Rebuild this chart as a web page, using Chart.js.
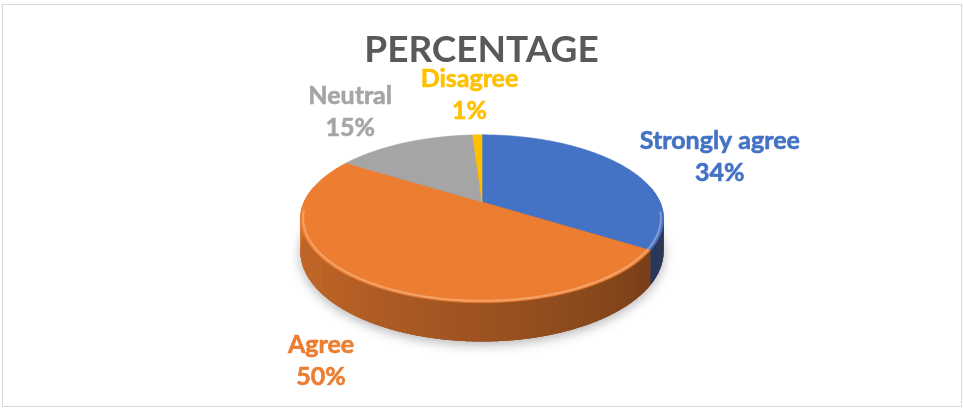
<!DOCTYPE html>
<html>
<head>
<meta charset="utf-8">
<script src="https://cdn.jsdelivr.net/npm/chart.js@4/dist/chart.umd.min.js"></script>
<style>
  html, body { margin: 0; padding: 0; background: #ffffff; }
  canvas { display: block; }
</style>
</head>
<body>
<canvas id="chart" width="963" height="409"></canvas>
<script>
// Survey answers and their shares (percent)
const categories = ['Strongly agree', 'Agree', 'Neutral', 'Disagree'];
const percentages = [34, 50, 15, 1];
const sliceColors = ['#4472C4', '#ED7D31', '#A5A5A5', '#FFC000'];
const chartTitle = 'PERCENTAGE';

// Tilted-disc view: centre, horizontal / vertical radius, perspective, wall height
const VIEW = { cx: 482, cy: 202, sx: 178, sy: 80.6, k: 0.2, depth: 31 };
const LABEL_FONT = 'bold 25px Lato';
const LABEL_GAP = 16;
const LABEL_BOX_H = 58;

function project(theta, f, drop) {
  const u = f * Math.cos(theta);
  const v = -f * Math.sin(theta);
  const w = 1 + VIEW.k * v;
  return [VIEW.cx + VIEW.sx * u / w, VIEW.cy - VIEW.sy * v / w + (drop ? VIEW.depth / w : 0)];
}

function hexToRgb(hex) {
  const n = parseInt(hex.slice(1), 16);
  return [(n >> 16) & 255, (n >> 8) & 255, n & 255];
}

function shade(hex, f) {
  const [r, g, b] = hexToRgb(hex);
  return `rgb(${Math.round(r * f)},${Math.round(g * f)},${Math.round(b * f)})`;
}

const clamp = (x, a, b) => Math.min(Math.max(x, a), b);
const STEP = Math.PI / 360;

// Draws the pie as a tilted 3-D disc, using the arc angles Chart.js computed
const pie3d = {
  id: 'pie3d',
  beforeDatasetsDraw(chart) {
    const ctx = chart.ctx;
    const arcs = chart.getDatasetMeta(0).data;
    const colors = chart.data.datasets[0].backgroundColor;

    // soft shadow under the disc
    ctx.save();
    ctx.beginPath();
    for (let t = 0; t <= Math.PI * 2 + STEP; t += STEP) {
      const p = project(t, 1, true);
      t === 0 ? ctx.moveTo(p[0], p[1]) : ctx.lineTo(p[0], p[1]);
    }
    ctx.closePath();
    ctx.shadowColor = 'rgba(0,0,0,0.30)';
    ctx.shadowBlur = 12;
    ctx.shadowOffsetY = 3;
    ctx.fillStyle = '#8a4a20';
    ctx.fill();
    ctx.restore();

    // outer walls on the front half
    const lo = -0.2, hi = Math.PI + 0.2;
    arcs.forEach((arc, i) => {
      const a0 = Math.max(arc.startAngle, lo);
      const a1 = Math.min(arc.endAngle, hi);
      if (a1 <= a0) return;
      for (let t = a0; t < a1; t += STEP) {
        const t2 = Math.min(t + STEP * 1.6, a1);
        const q = clamp(((t + t2) / 2) / Math.PI, 0, 1);
        const f = 0.42 + 0.48 * q;
        const p1 = project(t, 1, false), p2 = project(t2, 1, false);
        const p3 = project(t2, 1, true), p4 = project(t, 1, true);
        ctx.beginPath();
        ctx.moveTo(p1[0], p1[1]);
        ctx.lineTo(p2[0], p2[1]);
        ctx.lineTo(p3[0], p3[1]);
        ctx.lineTo(p4[0], p4[1]);
        ctx.closePath();
        ctx.fillStyle = shade(colors[i], f);
        ctx.fill();
      }
    });

    // top faces
    arcs.forEach((arc, i) => {
      ctx.beginPath();
      const c = project(0, 0, false);
      ctx.moveTo(c[0], c[1]);
      for (let t = arc.startAngle; t < arc.endAngle; t += STEP) {
        const p = project(t, 1, false);
        ctx.lineTo(p[0], p[1]);
      }
      const e = project(arc.endAngle, 1, false);
      ctx.lineTo(e[0], e[1]);
      ctx.closePath();
      ctx.fillStyle = colors[i];
      ctx.fill();
      ctx.strokeStyle = colors[i];
      ctx.lineWidth = 0.6;
      ctx.stroke();
    });

    // rounded-edge highlight along the front rim
    ctx.save();
    ctx.beginPath();
    for (let t = 0.12; t <= Math.PI - 0.1; t += STEP) {
      const p = project(t, 0.985, false);
      t === 0.12 ? ctx.moveTo(p[0], p[1]) : ctx.lineTo(p[0], p[1]);
    }
    ctx.strokeStyle = 'rgba(255,235,215,0.35)';
    ctx.lineWidth = 2;
    ctx.stroke();
    ctx.restore();

    return false;
  },
  afterDraw(chart) {
    const ctx = chart.ctx;
    const arcs = chart.getDatasetMeta(0).data;
    const values = chart.data.datasets[0].data;
    const total = values.reduce((s, v) => s + v, 0);
    const colors = chart.data.datasets[0].backgroundColor;

    // category + percentage labels outside each slice
    ctx.save();
    ctx.font = LABEL_FONT;
    ctx.textAlign = 'center';
    ctx.textBaseline = 'alphabetic';
    ctx.lineWidth = 0.6;
    ctx.lineJoin = 'round';
    arcs.forEach((arc, i) => {
      const mid = (arc.startAngle + arc.endAngle) / 2;
      const front = Math.sin(mid) > 0;
      const rim = project(mid, 1, front);
      let dx = Math.cos(mid) * VIEW.sx, dy = Math.sin(mid) * VIEW.sy;
      const len = Math.hypot(dx, dy);
      dx /= len; dy /= len;
      const ax = rim[0] + dx * LABEL_GAP;
      const ay = rim[1] + dy * LABEL_GAP;
      const name = chart.data.labels[i];
      const pct = Math.round(values[i] / total * 100) + '%';
      const w = Math.max(ctx.measureText(name).width, ctx.measureText(pct).width);
      const bx = ax + clamp(dx * 2, -1, 1) * w / 2;
      const by = ay + clamp(dy * 1.5, -1, 1) * LABEL_BOX_H / 2 + 4;
      ctx.fillStyle = colors[i];
      ctx.strokeStyle = colors[i];
      ctx.fillText(name, bx, by - 7);
      ctx.strokeText(name, bx, by - 7);
      ctx.fillText(pct, bx, by + 25);
      ctx.strokeText(pct, bx, by + 25);
    });
    ctx.restore();

    // chart frame
    ctx.save();
    ctx.strokeStyle = '#D9D9D9';
    ctx.lineWidth = 1;
    ctx.strokeRect(2.5, 4.5, 959, 402);
    ctx.restore();
  }
};

new Chart(document.getElementById('chart'), {
  type: 'pie',
  data: {
    labels: categories,
    datasets: [{
      data: percentages,
      backgroundColor: sliceColors,
      borderWidth: 0
    }]
  },
  options: {
    responsive: false,
    devicePixelRatio: 1,
    animation: false,
    events: [],
    layout: { padding: 0 },
    plugins: {
      legend: { display: false },
      tooltip: { enabled: false },
      title: {
        display: true,
        text: chartTitle,
        color: '#595959',
        font: { family: 'Lato', size: 37, weight: 'bold', lineHeight: 1.2 },
        padding: { top: 28, bottom: 0 }
      }
    }
  },
  plugins: [pie3d]
});
</script>
</body>
</html>
